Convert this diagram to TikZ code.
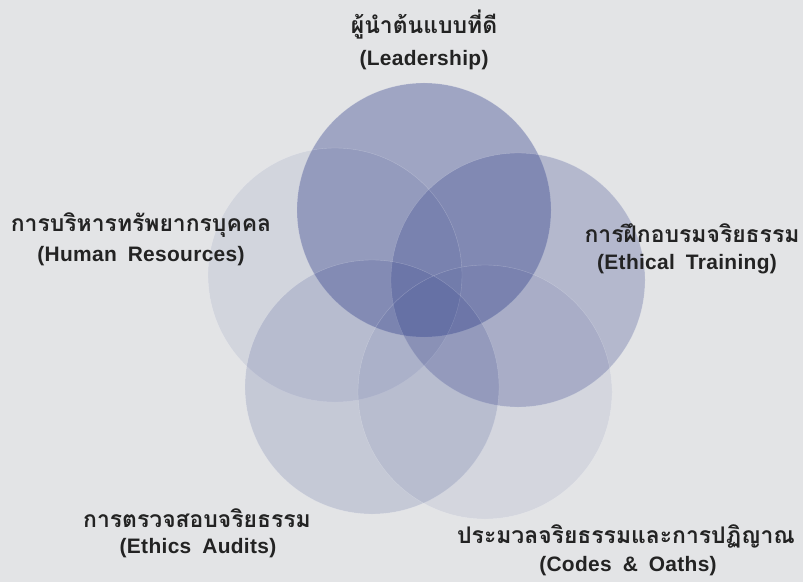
\documentclass[tikz,border=0pt]{standalone}
\usepackage{fontspec}
\setmainfont[LetterSpace=1.5]{Liberation Sans}
\newfontfamily\thaifont[Script=Thai]{Loma}
\definecolor{bgc}{HTML}{E3E4E6}
\definecolor{circ}{RGB}{40,56,134}
\definecolor{txt}{HTML}{232323}
\newcommand\myenfont{\bfseries\fontsize{21}{24}\selectfont\spaceskip 11bp\relax}
\newcommand\mythfont{\thaifont\bfseries\fontsize{23}{26}\selectfont}
\begin{document}
\begin{tikzpicture}[x=1bp,y=-1bp,
  disc/.style={circle,inner sep=0pt,minimum size=254bp,fill=circ,draw=white,draw opacity=0.25,line width=0.4bp},
  th/.style={text=txt,font=\mythfont,inner sep=0pt},
  en/.style={text=txt,font=\myenfont,inner sep=0pt}]
\fill[bgc] (0,0) rectangle (803,582);
\useasboundingbox (0,0) rectangle (803,582);
\node[disc,fill opacity=0.36] (lead) at (424,210) {};
\node[disc,fill opacity=0.25] (train) at (518,280) {};
\node[disc,fill opacity=0.085] (hr) at (335,275) {};
\node[disc,fill opacity=0.155] (audit) at (372,387) {};
\node[disc,fill opacity=0.08] (codes) at (485,392) {};
\node[th] (leadth) at (424,25) {ผู้นำต้นแบบที่ดี};
\node[en] (leaden) at (424,60) {(Leadership)};
\node[th] (hrth) at (141,225) {การบริหารทรัพยากรบุคคล};
\node[en] (hren) at (141,256) {(Human Resources)};
\node[th] (trainth) at (692,233) {การฝึกอบรมจริยธรรม};
\node[en] (trainen) at (687,264) {(Ethical Training)};
\node[th] (auditth) at (197,518) {การตรวจสอบจริยธรรม};
\node[en] (auditen) at (198,548) {(Ethics Audits)};
\node[th] (codesth) at (626,537) {ประมวลจริยธรรมและการปฏิญาณ};
\node[en] (codesen) at (628,566) {(Codes \& Oaths)};
\end{tikzpicture}
\end{document}
